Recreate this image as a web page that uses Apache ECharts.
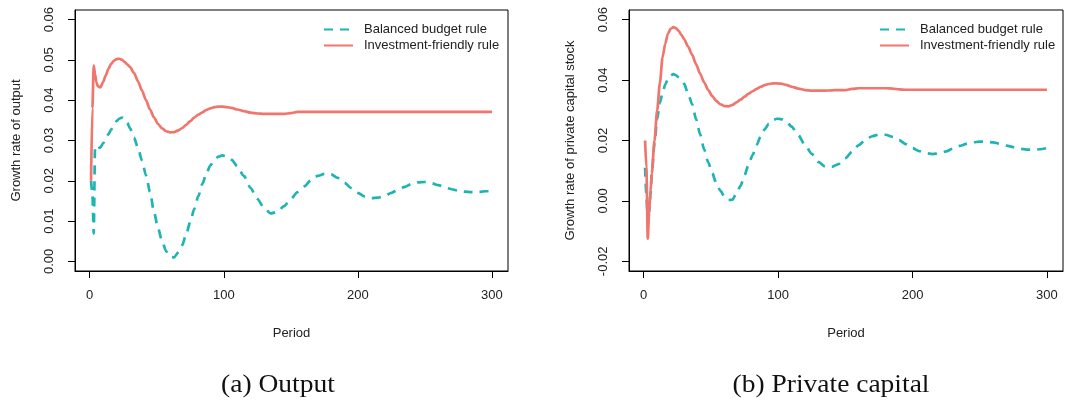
<!DOCTYPE html>
<html>
<head>
<meta charset="utf-8">
<script src="https://cdn.jsdelivr.net/npm/echarts@6/dist/echarts.min.js"></script>
<style>
html,body{margin:0;padding:0;background:#fff;}
#chart{width:1067px;height:400px;}
</style>
</head>
<body>
<div id="chart"></div>
<script>
const periods = [1,2,3,4,5,6,8,10,12,14,16,18,20,22,24,26,28,30,33,36,39,42,45,48,51,54,57,60,63,66,69,72,75,78,81,84,87,90,93,96,99,102,106,110,115,120,125,130,135,140,145,150,155,160,165,170,175,180,185,190,195,200,205,210,215,220,225,230,235,240,245,250,255,260,265,270,275,280,285,290,295,300];

const outBalanced = [0.0200,0.0170,0.0069,0.0285,0.0282,0.0280,
  0.0283,0.0293,0.0305,0.0316,0.0327,0.0338,0.0348,0.0354,0.0357,0.0354,0.0344,0.0331,
  0.0307,0.0282,0.0250,0.0213,0.0172,0.0122,0.0082,0.0050,0.0025,0.0011,0.0010,0.0022,0.0040,0.0068,0.0098,0.0130,0.0162,0.0192,0.0218,0.0238,0.0252,0.0260,0.0263,0.0260,
  0.0252,0.0236,
  0.0212,0.0182,0.0155,0.0133,0.0119,0.0123,0.0137,0.0155,0.0172,0.0186,
  0.0201,0.0212,0.0217,0.0216,0.0207,0.0195,0.0182,0.0170,0.0161,0.0157,
  0.0158,0.0162,0.0170,0.0178,0.0185,0.0192,0.0196,0.0197,0.0194,0.0189,
  0.0184,0.0179,0.0175,0.0173,0.0172,0.0172,0.0174,0.0174];

const outInvest = [0.0200,0.0380,0.0486,0.0465,0.0445,0.0435,
  0.0432,0.0445,0.0462,0.0478,0.0490,0.0498,0.0502,0.0503,0.0501,0.0495,0.0489,0.0483,
  0.0468,0.0447,0.0424,0.0400,0.0377,0.0357,0.0341,0.0330,0.0323,0.0320,0.0321,0.0325,0.0331,0.0339,0.0348,0.0357,0.0364,0.0370,0.0376,0.0380,0.0383,0.0384,0.0384,0.0383,
  0.0381,0.0377,
  0.0373,0.0369,0.0367,0.0366,0.0366,0.0366,0.0366,0.0368,0.0371,0.0371,
  0.0371,0.0371,0.0371,0.0371,0.0371,0.0371,0.0371,0.0371,0.0371,0.0371,
  0.0371,0.0371,0.0371,0.0371,0.0371,0.0371,0.0371,0.0371,0.0371,0.0371,
  0.0371,0.0371,0.0371,0.0371,0.0371,0.0371,0.0371,0.0371];

const capBalanced = [0.0110,0.0020,-0.0075,-0.0040,0.0020,0.0090,
  0.0190,0.0270,0.0325,0.0358,0.0385,0.0403,0.0415,0.0420,0.0416,0.0409,0.0400,0.0388,
  0.0355,0.0320,0.0270,0.0220,0.0170,0.0128,0.0092,0.0058,0.0034,0.0015,0.0003,0.0004,0.0025,0.0050,0.0085,0.0120,0.0152,0.0185,0.0214,0.0237,0.0255,0.0267,0.0272,0.0271,
  0.0264,0.0246,
  0.0218,0.0185,0.0156,0.0129,0.0114,0.0113,0.0122,0.0141,0.0163,0.0185,
  0.0202,0.0214,0.0220,0.0219,0.0212,0.0201,0.0188,0.0175,0.0165,0.0158,
  0.0155,0.0158,0.0164,0.0173,0.0182,0.0189,0.0194,0.0196,0.0196,0.0194,
  0.0189,0.0183,0.0178,0.0173,0.0170,0.0169,0.0171,0.0175];

const capInvest = [0.0200,0.0110,-0.0125,-0.0040,0.0030,0.0090,
  0.0200,0.0300,0.0390,0.0475,0.0520,0.0553,0.0570,0.0575,0.0572,0.0563,0.0550,0.0536,
  0.0511,0.0484,0.0452,0.0421,0.0392,0.0367,0.0347,0.0331,0.0320,0.0314,0.0313,0.0318,0.0326,0.0335,0.0345,0.0355,0.0363,0.0371,0.0378,0.0383,0.0387,0.0389,0.0389,0.0388,
  0.0384,0.0378,
  0.0372,0.0367,0.0365,0.0365,0.0365,0.0366,0.0367,0.0367,0.0371,0.0373,
  0.0373,0.0373,0.0373,0.0373,0.0372,0.0369,0.0368,0.0368,0.0368,0.0368,
  0.0368,0.0368,0.0368,0.0368,0.0368,0.0368,0.0368,0.0368,0.0368,0.0368,
  0.0368,0.0368,0.0368,0.0368,0.0368,0.0368,0.0368,0.0368];

const xTicks = [0,100,200,300];
const outYTicks = [0,0.01,0.02,0.03,0.04,0.05,0.06];
const capYTicks = [-0.02,0,0.02,0.04,0.06];
const seriesNames = ['Balanced budget rule','Investment-friendly rule'];
const captions = ['(a) Output','(b) Private capital'];
const yTitles = ['Growth rate of output','Growth rate of private capital stock'];
const xTitle = 'Period';

const TEAL = '#1FB4B4';
const SALMON = '#F0756C';
const FONT = '"Liberation Sans", Arial, sans-serif';
const TXT = '#222';

function pairs(vals){ return periods.map((p,i)=>[p, vals[i]]); }

function xAxisFor(gi){
  return {
    type:'value', gridIndex:gi, min:-10.96, max:311.96,
    name:xTitle, nameLocation:'middle', nameGap:56,
    nameTextStyle:{fontFamily:FONT,fontSize:13,color:TXT},
    axisLine:{show:true,onZero:false,lineStyle:{color:'#000',width:1}},
    axisTick:{show:true,length:7,customValues:xTicks,lineStyle:{color:'#000',width:1}},
    axisLabel:{customValues:xTicks,margin:18,fontFamily:FONT,fontSize:13,color:TXT,formatter:v=>String(v)},
    splitLine:{show:false}
  };
}
function yAxisFor(gi,min,max,ticks,title){
  return {
    type:'value', gridIndex:gi, min:min, max:max,
    name:title, nameLocation:'middle', nameGap:52,
    nameTextStyle:{fontFamily:FONT,fontSize:13,color:TXT},
    axisLine:{show:true,onZero:false,lineStyle:{color:'#000',width:1}},
    axisTick:{show:true,length:7,customValues:ticks,lineStyle:{color:'#000',width:1}},
    axisLabel:{customValues:ticks,rotate:90,margin:19,fontFamily:FONT,fontSize:13,color:TXT,formatter:v=>v.toFixed(2)},
    splitLine:{show:false}
  };
}
function mkSeries(name,gi,vals,color,dashed){
  return {
    name:name, type:'line', xAxisIndex:gi, yAxisIndex:gi,
    data:pairs(vals), symbol:'none', smooth:0.25, smoothMonotone:'x',
    lineStyle:{color:color,width:2.7,type:dashed?[9,7]:'solid',cap:'butt'},
    itemStyle:{color:color}, animation:false
  };
}
function legendFor(left){
  return {
    left:left, top:23, padding:0, orient:'vertical', itemWidth:29, itemHeight:14, itemGap:3,
    data:seriesNames,
    itemStyle:{opacity:0},
    textStyle:{fontFamily:FONT,fontSize:13,color:TXT,padding:[0,0,0,6]},
    selectedMode:false
  };
}

const capFont = '25px "Liberation Serif", "DejaVu Serif", serif';

const chart = echarts.init(document.getElementById('chart'), null, {renderer:'canvas'});
chart.setOption({
  backgroundColor:'#fff',
  animation:false,
  grid:[
    {left:75, top:10, width:433, height:261, show:true, borderColor:'#000', borderWidth:1, backgroundColor:'transparent'},
    {left:629, top:10, width:434, height:261, show:true, borderColor:'#000', borderWidth:1, backgroundColor:'transparent'}
  ],
  xAxis:[xAxisFor(0), xAxisFor(1)],
  yAxis:[
    yAxisFor(0,-0.0024,0.0624,outYTicks,yTitles[0]),
    yAxisFor(1,-0.0232,0.0632,capYTicks,yTitles[1])
  ],
  legend:[legendFor(323), legendFor(879)],
  series:[
    mkSeries(seriesNames[0],0,outBalanced,TEAL,true),
    mkSeries(seriesNames[1],0,outInvest,SALMON,false),
    mkSeries(seriesNames[0],1,capBalanced,TEAL,true),
    mkSeries(seriesNames[1],1,capInvest,SALMON,false)
  ],
  graphic:[
    {type:'text', x:278, y:385, scaleX:1.1, style:{text:captions[0], font:capFont, fill:'#111', textAlign:'center', textVerticalAlign:'middle'}},
    {type:'text', x:831, y:385, scaleX:1.1, style:{text:captions[1], font:capFont, fill:'#111', textAlign:'center', textVerticalAlign:'middle'}}
  ]
});
</script>
</body>
</html>
